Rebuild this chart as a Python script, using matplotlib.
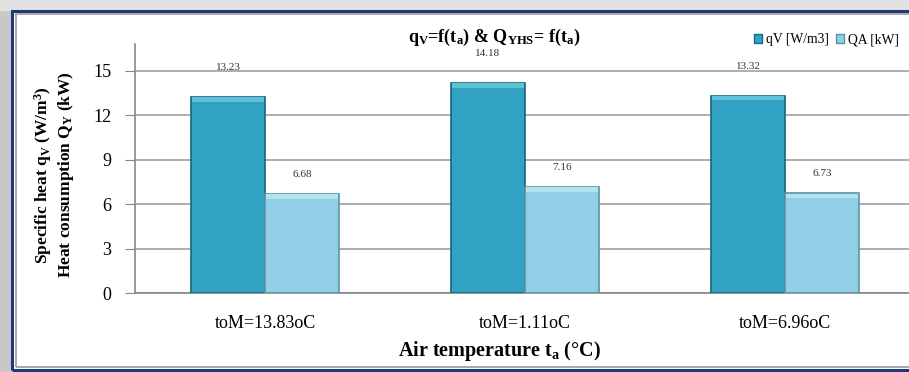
import numpy as np
import matplotlib; matplotlib.use("Agg")
import matplotlib.pyplot as plt
from matplotlib.patches import Rectangle, Patch

categories = ["toM=13.83oC", "toM=1.11oC", "toM=6.96oC"]
qV = [13.23, 14.18, 13.32]
QA = [6.68, 7.16, 6.73]
yticks = [0, 3, 6, 9, 12, 15]

serif = ["Liberation Serif", "DejaVu Serif"]
plt.rcParams["font.family"] = serif
plt.rcParams["mathtext.fontset"] = "custom"
plt.rcParams["mathtext.rm"] = "Liberation Serif"
plt.rcParams["mathtext.bf"] = "Liberation Serif:bold"
plt.rcParams["mathtext.it"] = "Liberation Serif:italic"

fig = plt.figure(figsize=(9.09, 3.72), dpi=100)
W, H = 909, 372

# frame: shadow, dark blue line, inner grey line
fig.patches.append(Rectangle((0, 0), 11 / W, 1, transform=fig.transFigure,
                             color="#c8c8c8", zorder=-5))
fig.patches.append(Rectangle((0, 1 - 10 / H), 1, 10 / H, transform=fig.transFigure,
                             color="#e2e2e2", zorder=-5))
fig.patches.append(Rectangle((12 / W, 2 / H), 1, 1 - 13 / H, transform=fig.transFigure,
                             fill=False, ec="#1f3a7a", lw=2.2, zorder=-4))
fig.patches.append(Rectangle((15.5 / W, 5.5 / H), 1, 1 - 19.5 / H, transform=fig.transFigure,
                             fill=False, ec="#a8a8a8", lw=1.4, zorder=-4))

ax = fig.add_axes([135 / W, 1 - 293 / H, 780 / W, (293 - 44) / H])
x = np.arange(len(categories))
w = 0.285
c1, e1 = "#31a2c2", "#17677d"
c2, e2 = "#90cfe5", "#5a93a6"
ax.bar(x - w / 2, qV, w, color=c1, edgecolor=e1, lw=1.2, zorder=3)
ax.bar(x + w / 2, QA, w, color=c2, edgecolor=e2, lw=1.2, zorder=3)
# lighter bevel strip on top of each bar
ax.bar(x - w / 2, 0.3, w * 0.96, bottom=np.array(qV) - 0.33, color="#5cc2dc",
       lw=0, zorder=4)
ax.bar(x + w / 2, 0.3, w * 0.96, bottom=np.array(QA) - 0.33, color="#b4e2f1",
       lw=0, zorder=4)

for xi, v in zip(x - w / 2, qV):
    ax.text(xi, v + 1.65, f"{v:.2f}", ha="center", va="bottom", fontsize=8, color="#333333")
for xi, v in zip(x + w / 2, QA):
    ax.text(xi, v + 1.0, f"{v:.2f}", ha="center", va="bottom", fontsize=8, color="#333333")

ax.set_xlim(-0.5, 2.5)
ax.set_ylim(0, 16.8)
ax.set_yticks(yticks)
ax.set_xticks(x)
ax.set_xticklabels(categories, fontsize=13)
ax.tick_params(axis="y", labelsize=13, length=7, color="#888888", pad=10)
ax.tick_params(axis="x", length=0, pad=16)
ax.grid(axis="y", color="#a0a0a0", lw=1.2, zorder=0)
for s in ["top", "right"]:
    ax.spines[s].set_visible(False)
ax.spines["left"].set_color("#888888")
ax.spines["bottom"].set_color("#888888")
ax.spines["left"].set_linewidth(1.2)
ax.spines["bottom"].set_linewidth(1.2)

fig.text(54 / W, 1 - 175 / H,
         "Specific heat $\\mathbf{q_V}$ (W/m$^\\mathbf{3}$)\nHeat consumption $\\mathbf{Q_Y}$ (kW)",
         rotation=90, ha="center", va="center", fontsize=12.5, fontweight="bold",
         linespacing=1.1)
fig.text(499 / W, 1 - 351 / H, "Air temperature $\\mathbf{t_a}$ (°C)",
         ha="center", va="center", fontsize=14.5, fontweight="bold")
fig.text(494 / W, 1 - 37 / H, "$\\mathbf{q_V}$=f($\\mathbf{t_a}$) & $\\mathbf{Q_{YHS}}$= f($\\mathbf{t_a}$)",
         ha="center", va="center", fontsize=13, fontweight="bold")

handles = [Patch(fc=c1, ec=e1), Patch(fc=c2, ec=e2)]
fig.legend(handles, ["qV [W/m3]", "QA [kW]"], loc="center right",
           bbox_to_anchor=(911 / W, 1 - 40 / H),
           ncol=2, frameon=False, fontsize=9.8, handlelength=0.6, handleheight=0.6,
           handletextpad=0.3, columnspacing=0.5)

fig.savefig("out.png", dpi=100)
